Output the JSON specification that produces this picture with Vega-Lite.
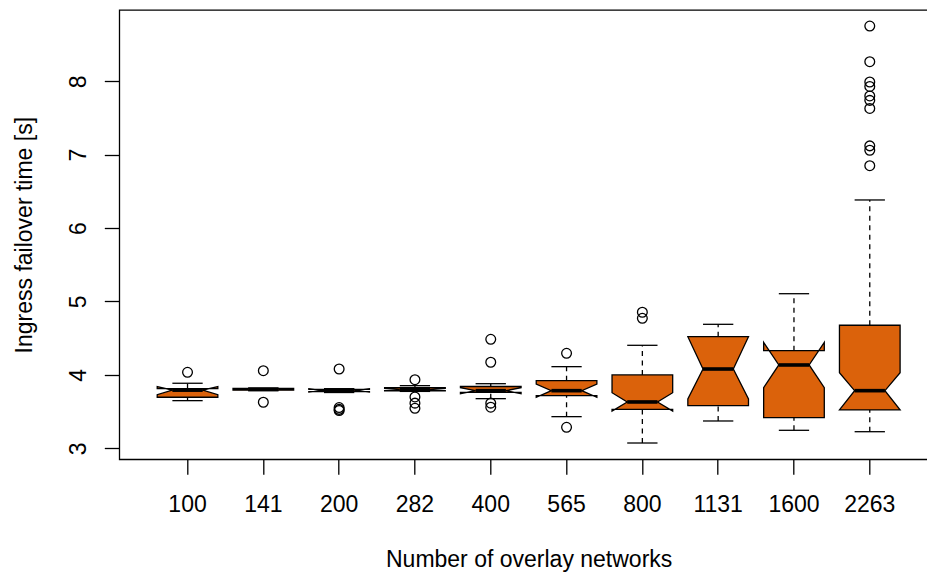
{
  "$schema": "https://vega.github.io/schema/vega-lite/v6.json",
  "width": 818.7,
  "height": 449.3,
  "autosize": {"type": "none"},
  "padding": {"left": 119.3, "top": 10, "right": -11, "bottom": 114.7},
  "background": "white",
  "config": {
    "font": "Liberation Sans",
    "view": {"stroke": "black", "strokeWidth": 1.3},
    "axis": {"grid": false, "labelColor": "black", "titleColor": "black", "tickColor": "black", "tickWidth": 1.3, "labelFont": "Liberation Sans", "titleFont": "Liberation Sans"}
  },
  "datasets": {
    "stats": [
      {"net": "100", "lo": 3.649, "q1": 3.695, "nlo": 3.73, "med": 3.792, "nhi": 3.84, "q3": 3.812, "hi": 3.886},
      {"net": "141", "lo": 3.785, "q1": 3.792, "nlo": 3.795, "med": 3.803, "nhi": 3.811, "q3": 3.815, "hi": 3.82},
      {"net": "200", "lo": 3.76, "q1": 3.772, "nlo": 3.765, "med": 3.79, "nhi": 3.81, "q3": 3.803, "hi": 3.812},
      {"net": "282", "lo": 3.775, "q1": 3.782, "nlo": 3.785, "med": 3.8, "nhi": 3.815, "q3": 3.825, "hi": 3.853},
      {"net": "400", "lo": 3.676, "q1": 3.762, "nlo": 3.745, "med": 3.785, "nhi": 3.825, "q3": 3.842, "hi": 3.88},
      {"net": "565", "lo": 3.431, "q1": 3.717, "nlo": 3.695, "med": 3.785, "nhi": 3.876, "q3": 3.921, "hi": 4.112},
      {"net": "800", "lo": 3.072, "q1": 3.531, "nlo": 3.508, "med": 3.631, "nhi": 3.757, "q3": 4.0, "hi": 4.403},
      {"net": "1131", "lo": 3.372, "q1": 3.58, "nlo": 3.672, "med": 4.08, "nhi": 4.52, "q3": 4.52, "hi": 4.689},
      {"net": "1600", "lo": 3.245, "q1": 3.417, "nlo": 3.826, "med": 4.135, "nhi": 4.444, "q3": 4.33, "hi": 5.106},
      {"net": "2263", "lo": 3.226, "q1": 3.522, "nlo": 3.522, "med": 3.785, "nhi": 4.03, "q3": 4.676, "hi": 6.383}
    ],
    "outliers": [
      {"net": "100", "y": 4.035},
      {"net": "141", "y": 4.057},
      {"net": "141", "y": 3.627},
      {"net": "200", "y": 4.08},
      {"net": "200", "y": 3.555},
      {"net": "200", "y": 3.53},
      {"net": "200", "y": 3.515},
      {"net": "282", "y": 3.935},
      {"net": "282", "y": 3.7},
      {"net": "282", "y": 3.615},
      {"net": "282", "y": 3.545},
      {"net": "400", "y": 4.485},
      {"net": "400", "y": 4.172},
      {"net": "400", "y": 3.615},
      {"net": "400", "y": 3.56},
      {"net": "565", "y": 4.294},
      {"net": "565", "y": 3.286},
      {"net": "800", "y": 4.853},
      {"net": "800", "y": 4.771},
      {"net": "2263", "y": 8.752},
      {"net": "2263", "y": 8.267},
      {"net": "2263", "y": 7.99},
      {"net": "2263", "y": 7.93},
      {"net": "2263", "y": 7.8},
      {"net": "2263", "y": 7.74},
      {"net": "2263", "y": 7.63},
      {"net": "2263", "y": 7.12},
      {"net": "2263", "y": 7.06},
      {"net": "2263", "y": 6.85}
    ]
  },
  "layer": [
    {
      "data": {"name": "stats"},
      "mark": {"type": "rule", "color": "black", "strokeWidth": 1.3, "strokeDash": [5, 4.5]},
      "encoding": {
        "x": {
          "field": "net", "type": "ordinal",
          "scale": {"type": "band", "domain": ["100", "141", "200", "282", "400", "565", "800", "1131", "1600", "2263"], "paddingInner": 0.2, "paddingOuter": 0.5, "align": 0.5},
          "axis": {"domain": false, "ticks": true, "tickSize": 15, "labelAngle": 0, "labelFontSize": 23, "labelBaseline": "alphabetic", "labelPadding": 37.4, "title": "Number of overlay networks", "titleFontSize": 23, "titleFontWeight": "normal", "titleBaseline": "alphabetic", "titleY": 107}
        },
        "y": {
          "field": "lo", "type": "quantitative",
          "scale": {"domain": [2.85, 8.971], "nice": false, "zero": false},
          "axis": {"values": [3, 4, 5, 6, 7, 8], "format": "d", "domain": false, "ticks": true, "tickSize": 15, "labelAngle": 270, "labelAlign": "center", "labelBaseline": "alphabetic", "labelPadding": 19, "labelFontSize": 23, "title": "Ingress failover time [s]", "titleFontSize": 23, "titleFontWeight": "normal", "titleAngle": 270, "titleAlign": "center", "titleBaseline": "alphabetic", "titleX": -88, "titleY": 224.65}
        },
        "y2": {"field": "q1"}
      }
    },
    {
      "data": {"name": "stats"},
      "mark": {"type": "rule", "color": "black", "strokeWidth": 1.3, "strokeDash": [5, 4.5]},
      "encoding": {
        "x": {"field": "net", "type": "ordinal", "scale": {"type": "band"}},
        "y": {"field": "q3", "type": "quantitative"},
        "y2": {"field": "hi"}
      }
    },
    {
      "data": {"name": "stats"},
      "mark": {"type": "tick", "orient": "horizontal", "color": "black", "thickness": 1.3, "size": 30.3, "opacity": 1},
      "encoding": {
        "x": {"field": "net", "type": "ordinal", "scale": {"type": "band"}},
        "y": {"field": "lo", "type": "quantitative"}
      }
    },
    {
      "data": {"name": "stats"},
      "mark": {"type": "tick", "orient": "horizontal", "color": "black", "thickness": 1.3, "size": 30.3, "opacity": 1},
      "encoding": {
        "x": {"field": "net", "type": "ordinal", "scale": {"type": "band"}},
        "y": {"field": "hi", "type": "quantitative"}
      }
    },
    {
      "data": {"name": "stats"},
      "transform": [
        {"calculate": "['L','R']", "as": "side"},
        {"flatten": ["side"]},
        {"fold": ["q1", "nlo", "med", "nhi", "q3"], "as": ["stat", "yv"]},
        {"calculate": "datum.side == 'L' ? indexof(['q1','nlo','med','nhi','q3'], datum.stat) : 9 - indexof(['q1','nlo','med','nhi','q3'], datum.stat)", "as": "k"},
        {"calculate": "datum.stat == 'med' ? datum.side + 'I' : datum.side", "as": "vx"}
      ],
      "mark": {"type": "line", "fill": "#DB620B", "stroke": "black", "strokeWidth": 1.3, "interpolate": "linear-closed", "strokeJoin": "miter"},
      "encoding": {
        "x": {"field": "net", "type": "ordinal", "scale": {"type": "band"}, "bandPosition": 0},
        "xOffset": {"field": "vx", "type": "nominal", "scale": {"type": "point", "domain": ["L", "LI", "C", "RI", "R"], "padding": 0}},
        "y": {"field": "yv", "type": "quantitative"},
        "order": {"field": "k", "type": "quantitative"},
        "detail": {"field": "net", "type": "nominal"}
      }
    },
    {
      "data": {"name": "stats"},
      "mark": {"type": "tick", "orient": "horizontal", "color": "black", "thickness": 3.6, "size": 30.3, "opacity": 1},
      "encoding": {
        "x": {"field": "net", "type": "ordinal", "scale": {"type": "band"}},
        "y": {"field": "med", "type": "quantitative"}
      }
    },
    {
      "data": {"name": "outliers"},
      "mark": {"type": "point", "shape": "circle", "filled": false, "stroke": "black", "strokeWidth": 1.3, "size": 95, "opacity": 1},
      "encoding": {
        "x": {"field": "net", "type": "ordinal", "scale": {"type": "band"}},
        "y": {"field": "y", "type": "quantitative"}
      }
    }
  ]
}
